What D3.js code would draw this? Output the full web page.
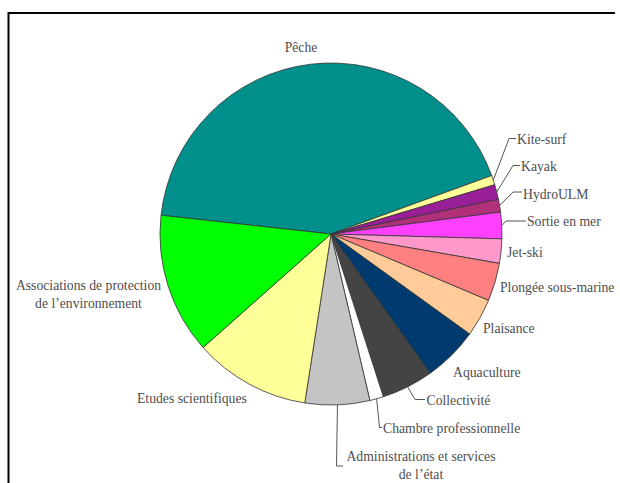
<!DOCTYPE html>
<html>
<head>
<meta charset="utf-8">
<script src="https://cdn.jsdelivr.net/npm/d3@7"></script>
<style>
  html, body { margin: 0; padding: 0; background: #ffffff; }
  svg { display: block; }
  .lbl { font-family: "Liberation Serif", "Times New Roman", serif; font-size: 13.7px; fill: #4d4d4d; }
</style>
</head>
<body>
<svg id="chart" width="620" height="483"></svg>
<script>
// Répartition des acteurs (en %)
const categories = [
  "Pêche", "Kite-surf", "Kayak", "HydroULM", "Sortie en mer", "Jet-ski",
  "Plongée sous-marine", "Plaisance", "Aquaculture", "Collectivité",
  "Chambre professionnelle", "Administrations et services de l’état",
  "Etudes scientifiques", "Associations de protection de l’environnement"
];
const values = [42.7, 0.9, 1.4, 1.2, 2.5, 2.3, 3.6, 3.6, 5.2, 4.9, 1.3, 6.1, 11.0, 13.3];
const colors = [
  "#008f8a", "#ffff99", "#991f99", "#b0307a", "#ff40ff", "#ff99cc",
  "#ff8080", "#ffcc99", "#003a6e", "#444444",
  "#ffffff", "#c4c4c4", "#ffff99", "#00ff00"
];

// Label placement: text lines, anchor, position and optional leader elbow
const labelLayout = {
  "Pêche": { lines: ["Pêche"], x: 301, y: 47, anchor: "middle" },
  "Kite-surf": { lines: ["Kite-surf"], x: 517, y: 139, anchor: "start", elbow: [[509, 138.5], [516, 138.5]] },
  "Kayak": { lines: ["Kayak"], x: 521, y: 166, anchor: "start", elbow: [[513, 165.5], [520, 165.5]] },
  "HydroULM": { lines: ["HydroULM"], x: 523, y: 194, anchor: "start", elbow: [[513, 192], [522, 192]] },
  "Sortie en mer": { lines: ["Sortie en mer"], x: 527, y: 221.5, anchor: "start", elbow: [[506, 221], [526, 221]] },
  "Jet-ski": { lines: ["Jet-ski"], x: 507, y: 252.5, anchor: "start" },
  "Plongée sous-marine": { lines: ["Plongée sous-marine"], x: 500, y: 287, anchor: "start" },
  "Plaisance": { lines: ["Plaisance"], x: 483, y: 328, anchor: "start" },
  "Aquaculture": { lines: ["Aquaculture"], x: 453, y: 372, anchor: "start" },
  "Collectivité": { lines: ["Collectivité"], x: 426.5, y: 400, anchor: "start", elbow: [[415, 399.5], [425, 399.5]] },
  "Chambre professionnelle": { lines: ["Chambre professionnelle"], x: 383, y: 428, anchor: "start", elbow: [[379.5, 427.5], [382, 427.5]] },
  "Administrations et services de l’état": { lines: ["Administrations et services", "de l’état"], x: 421, y: 456, anchor: "middle", elbow: [[336.5, 466], [343, 466]] },
  "Etudes scientifiques": { lines: ["Etudes scientifiques"], x: 137, y: 398, anchor: "start" },
  "Associations de protection de l’environnement": { lines: ["Associations de protection", "de l’environnement"], x: 88.5, y: 285, anchor: "middle" }
};

const svg = d3.select("#chart");
const cx = 331, cy = 234, radius = 171;
const lineGap = 18;

// Outer frame (top and left edges visible)
svg.append("path")
  .attr("d", "M8.5,483 L8.5,13 L615,13")
  .attr("fill", "none")
  .attr("stroke", "#000")
  .attr("stroke-width", 2);

const data = categories.map((c, i) => ({ name: c, value: values[i], color: colors[i] }));

const startAngle = -83.7 * Math.PI / 180;
const pie = d3.pie()
  .sort(null)
  .value(d => d.value)
  .startAngle(startAngle)
  .endAngle(startAngle + 2 * Math.PI);

const arc = d3.arc().innerRadius(0).outerRadius(radius);
const arcs = pie(data);

const g = svg.append("g").attr("transform", `translate(${cx},${cy})`);

g.selectAll("path.slice")
  .data(arcs)
  .join("path")
  .attr("class", "slice")
  .attr("d", arc)
  .attr("fill", d => d.data.color)
  .attr("stroke", "#333")
  .attr("stroke-width", 0.8)
  .attr("stroke-linejoin", "round");

// Leader lines from the slice rim to the label
arcs.forEach(d => {
  const lay = labelLayout[d.data.name];
  if (!lay.elbow) return;
  const mid = (d.startAngle + d.endAngle) / 2;
  const p = d3.pointRadial(mid, radius);
  const pts = [[cx + p[0], cy + p[1]], ...lay.elbow];
  svg.append("path")
    .attr("d", d3.line()(pts))
    .attr("fill", "none")
    .attr("stroke", "#555")
    .attr("stroke-width", 1);
});

// Labels
arcs.forEach(d => {
  const lay = labelLayout[d.data.name];
  const t = svg.append("text")
    .attr("class", "lbl")
    .attr("text-anchor", lay.anchor);
  lay.lines.forEach((ln, k) => {
    t.append("tspan")
      .attr("x", lay.x)
      .attr("y", lay.y + k * lineGap)
      .attr("dominant-baseline", "central")
      .text(ln);
  });
});
</script>
</body>
</html>
